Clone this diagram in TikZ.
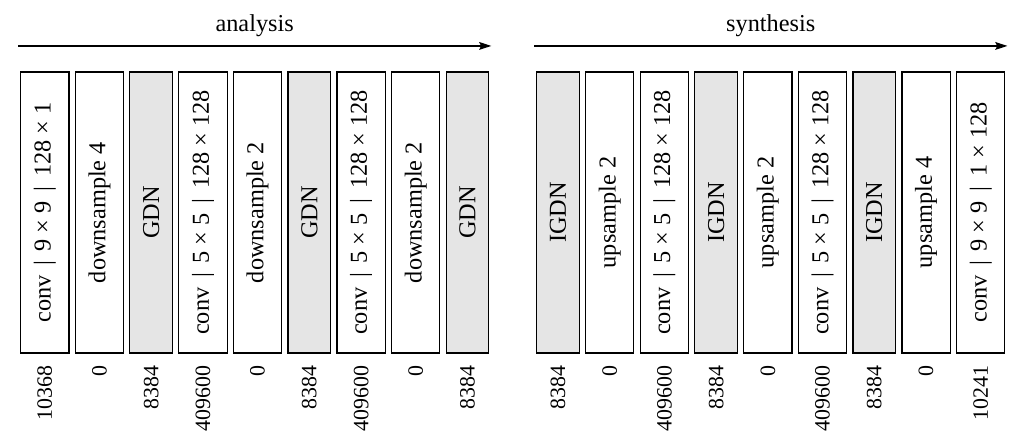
\documentclass[tikz,border=0pt]{standalone}
\usepackage{fontspec}
\setmainfont{Liberation Serif}
\usetikzlibrary{arrows.meta}
\definecolor{gdnfill}{gray}{0.9}

\begin{document}
\begin{tikzpicture}[
    layer/.style={draw, line width=0.5pt, fill=white, rotate=90, anchor=north,
      minimum width=115.6pt, inner xsep=0pt, inner ysep=5.4pt},
    norm/.style={layer, fill=gdnfill},
    count/.style={rotate=90, anchor=east, inner sep=0pt, font=\small},
    flow/.style={-{Stealth[length=5pt,width=3.2pt,inset=0.8pt]}, line width=0.5pt}]
  \def\boxy{-87.45pt};
  \def\gap{2.1pt};
  \def\arrowy{-18.9pt};
  \def\sep{\hspace{0.4em}|\hspace{0.4em}};
  \useasboundingbox (0,0) rectangle (422.2pt,-182.3pt);

  %analysis
  \node[layer] (a1) at (8.23pt,\boxy) {conv\sep 9 × 9\sep 128 × 1};
  \node[layer] (a2) at ([xshift=\gap]a1.south) {downsample 4};
  \node[norm]  (a3) at ([xshift=\gap]a2.south) {GDN};
  \node[layer] (a4) at ([xshift=\gap]a3.south) {conv\sep 5 × 5\sep 128 × 128};
  \node[layer] (a5) at ([xshift=\gap]a4.south) {downsample 2};
  \node[norm]  (a6) at ([xshift=\gap]a5.south) {GDN};
  \node[layer] (a7) at ([xshift=\gap]a6.south) {conv\sep 5 × 5\sep 128 × 128};
  \node[layer] (a8) at ([xshift=\gap]a7.south) {downsample 2};
  \node[norm]  (a9) at ([xshift=\gap]a8.south) {GDN};

  %synthesis
  \node[norm]  (s1) at (220.6pt,\boxy) {IGDN};
  \node[layer] (s2) at ([xshift=\gap]s1.south) {upsample 2};
  \node[layer] (s3) at ([xshift=\gap]s2.south) {conv\sep 5 × 5\sep 128 × 128};
  \node[norm]  (s4) at ([xshift=\gap]s3.south) {IGDN};
  \node[layer] (s5) at ([xshift=\gap]s4.south) {upsample 2};
  \node[layer] (s6) at ([xshift=\gap]s5.south) {conv\sep 5 × 5\sep 128 × 128};
  \node[norm]  (s7) at ([xshift=\gap]s6.south) {IGDN};
  \node[layer] (s8) at ([xshift=\gap]s7.south) {upsample 4};
  \node[layer] (s9) at ([xshift=\gap]s8.south) {conv\sep 9 × 9\sep 1 × 128};

  %parameter counts
  \foreach \b/\n in {a1/10368,a2/0,a3/8384,a4/409600,a5/0,a6/8384,a7/409600,a8/0,a9/8384,
                     s1/8384,s2/0,s3/409600,s4/8384,s5/0,s6/409600,s7/8384,s8/0,s9/10241}
    \node[count] (\b n) at ([yshift=-4.8pt]\b.west) {\n};

  %direction arrows
  \coordinate (top) at (0,\arrowy);
  \coordinate (ain) at (a1.north |- top);
  \coordinate (aout) at (a9.south |- top);
  \coordinate (sin) at (s1.north |- top);
  \coordinate (sout) at (s9.south |- top);
  \draw[flow] ([xshift=-0.8pt]ain) -- node[above]{analysis} ([xshift=0.8pt]aout);
  \draw[flow] ([xshift=-0.8pt]sin) -- node[above]{synthesis} ([xshift=0.8pt]sout);
\end{tikzpicture}
\end{document}
